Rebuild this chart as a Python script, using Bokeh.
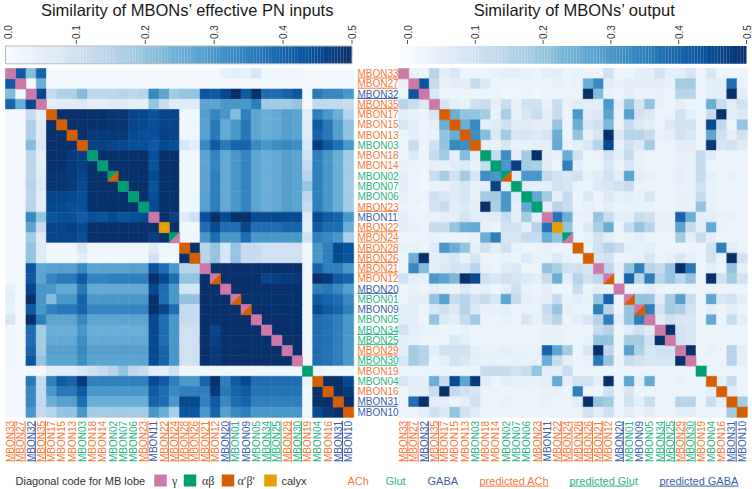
import numpy as np
from bokeh.plotting import figure
from bokeh.models import Range1d, ColumnDataSource
from bokeh.core.properties import value
from bokeh.palettes import Blues256
from bokeh.embed import file_html
from bokeh.resources import INLINE

# ---------------- data ----------------
labels = ["MBON33", "MBON27", "MBON32", "MBON35", "MBON17", "MBON15", "MBON13", "MBON03",
          "MBON18", "MBON14", "MBON02", "MBON07", "MBON06", "MBON23", "MBON11", "MBON22",
          "MBON24", "MBON28", "MBON26", "MBON21", "MBON12", "MBON20", "MBON01", "MBON09",
          "MBON05", "MBON34", "MBON25", "MBON29", "MBON30", "MBON19", "MBON04", "MBON16",
          "MBON31", "MBON10"]
transmitter = ["ACh", "ACh", "GABA", "ACh", "ACh", "ACh", "ACh", "Glut",
               "ACh", "ACh", "Glut", "Glut", "Glut", "ACh", "GABA", "ACh",
               "ACh", "ACh", "ACh", "ACh", "ACh", "GABA", "Glut", "GABA",
               "Glut", "Glut", "Glut", "ACh", "Glut", "ACh", "Glut", "ACh",
               "GABA", "GABA"]
predicted = [1, 1, 1, 1, 0, 0, 0, 0,
             0, 0, 0, 0, 0, 1, 0, 1,
             1, 1, 1, 1, 0, 1, 0, 0,
             0, 1, 1, 1, 1, 0, 0, 0,
             1, 0]
lobe_main = ["g", "g", "g", "g", "apbp", "apbp", "apbp", "apbp",
             "ab", "ab", "ab", "ab", "ab", "ab", "g", "calyx",
             "ab", "apbp", "apbp", "g", "g", "g", "g", "g",
             "g", "g", "g", "g", "g", "ab", "apbp", "apbp",
             "apbp", "apbp"]
lobe_second = ["g", "g", "g", "g", "apbp", "apbp", "apbp", "apbp",
               "ab", "ab", "apbp", "ab", "ab", "ab", "g", "calyx",
               "g", "apbp", "apbp", "g", "apbp", "g", "apbp", "apbp",
               "g", "g", "g", "g", "g", "ab", "apbp", "apbp",
               "apbp", "apbp"]

# lower triangles (row i lists columns 0..i-1)
pn_lower = [
    [],
    [0.42],
    [0.22, 0.01],
    [0.40, 0.25, 0.46],
    [0.01, 0.01, 0.12, 0.05],
    [0.01, 0.01, 0.16, 0.06, 0.52],
    [0.01, 0.01, 0.16, 0.06, 0.52, 0.52],
    [0.01, 0.01, 0.22, 0.07, 0.50, 0.50, 0.52],
    [0.01, 0.01, 0.14, 0.05, 0.50, 0.50, 0.48, 0.47],
    [0.01, 0.01, 0.14, 0.05, 0.50, 0.50, 0.48, 0.47, 0.52],
    [0.01, 0.01, 0.14, 0.06, 0.49, 0.49, 0.48, 0.46, 0.53, 0.53],
    [0.01, 0.01, 0.15, 0.06, 0.49, 0.49, 0.48, 0.45, 0.53, 0.53, 0.52],
    [0.01, 0.01, 0.14, 0.05, 0.46, 0.46, 0.45, 0.44, 0.50, 0.50, 0.50, 0.52],
    [0.01, 0.01, 0.15, 0.05, 0.45, 0.45, 0.44, 0.44, 0.50, 0.50, 0.50, 0.50, 0.52],
    [0.01, 0.01, 0.33, 0.20, 0.43, 0.44, 0.44, 0.42, 0.44, 0.43, 0.45, 0.43, 0.44, 0.45],
    [0.01, 0.01, 0.27, 0.12, 0.46, 0.46, 0.47, 0.45, 0.50, 0.50, 0.50, 0.50, 0.50, 0.50, 0.50],
    [0.01, 0.01, 0.18, 0.06, 0.46, 0.46, 0.46, 0.44, 0.52, 0.52, 0.52, 0.52, 0.52, 0.52, 0.47, 0.52],
    [0.01, 0.01, 0.20, 0.06, 0.02, 0.02, 0.02, 0.08, 0.02, 0.02, 0.02, 0.02, 0.02, 0.02, 0.06, 0.02, 0.02],
    [0.01, 0.01, 0.20, 0.06, 0.02, 0.02, 0.02, 0.05, 0.02, 0.02, 0.02, 0.02, 0.02, 0.02, 0.10, 0.02, 0.02, 0.52],
    [0.01, 0.01, 0.43, 0.27, 0.28, 0.28, 0.28, 0.33, 0.27, 0.27, 0.27, 0.27, 0.28, 0.28, 0.44, 0.38, 0.30, 0.15, 0.15],
    [0.01, 0.01, 0.42, 0.27, 0.34, 0.36, 0.36, 0.42, 0.34, 0.34, 0.35, 0.35, 0.35, 0.35, 0.50, 0.45, 0.38, 0.20, 0.20, 0.52],
    [0.04, 0.01, 0.46, 0.30, 0.30, 0.26, 0.26, 0.36, 0.26, 0.26, 0.26, 0.26, 0.26, 0.26, 0.45, 0.38, 0.30, 0.08, 0.08, 0.50, 0.50],
    [0.05, 0.01, 0.50, 0.30, 0.22, 0.30, 0.30, 0.40, 0.30, 0.30, 0.30, 0.30, 0.30, 0.30, 0.50, 0.38, 0.30, 0.20, 0.20, 0.52, 0.50, 0.52],
    [0.04, 0.01, 0.42, 0.30, 0.35, 0.36, 0.36, 0.40, 0.34, 0.34, 0.34, 0.34, 0.34, 0.34, 0.50, 0.46, 0.38, 0.12, 0.12, 0.52, 0.50, 0.52, 0.52],
    [0.08, 0.01, 0.50, 0.35, 0.27, 0.27, 0.27, 0.33, 0.27, 0.27, 0.27, 0.27, 0.27, 0.27, 0.45, 0.38, 0.30, 0.12, 0.12, 0.52, 0.50, 0.52, 0.52, 0.52],
    [0.02, 0.01, 0.38, 0.18, 0.25, 0.25, 0.25, 0.30, 0.25, 0.25, 0.25, 0.25, 0.25, 0.25, 0.45, 0.38, 0.30, 0.10, 0.10, 0.50, 0.46, 0.50, 0.50, 0.50, 0.50],
    [0.02, 0.01, 0.38, 0.18, 0.26, 0.26, 0.26, 0.32, 0.26, 0.26, 0.26, 0.26, 0.26, 0.26, 0.45, 0.38, 0.30, 0.10, 0.10, 0.50, 0.47, 0.50, 0.50, 0.50, 0.50, 0.52],
    [0.02, 0.01, 0.40, 0.18, 0.28, 0.28, 0.28, 0.33, 0.28, 0.28, 0.28, 0.28, 0.28, 0.28, 0.45, 0.40, 0.30, 0.10, 0.10, 0.50, 0.48, 0.50, 0.50, 0.50, 0.50, 0.50, 0.50],
    [0.02, 0.01, 0.43, 0.20, 0.27, 0.27, 0.27, 0.32, 0.27, 0.27, 0.27, 0.27, 0.27, 0.27, 0.45, 0.40, 0.30, 0.10, 0.10, 0.50, 0.48, 0.50, 0.50, 0.50, 0.50, 0.50, 0.50, 0.52],
    [0.01, 0.01, 0.02, 0.01, 0.05, 0.06, 0.06, 0.08, 0.10, 0.12, 0.15, 0.20, 0.14, 0.12, 0.06, 0.05, 0.10, 0.02, 0.02, 0.02, 0.02, 0.02, 0.02, 0.02, 0.02, 0.02, 0.02, 0.02, 0.02],
    [0.01, 0.01, 0.36, 0.13, 0.35, 0.42, 0.40, 0.48, 0.35, 0.35, 0.35, 0.35, 0.35, 0.35, 0.45, 0.42, 0.35, 0.30, 0.30, 0.40, 0.50, 0.35, 0.42, 0.45, 0.38, 0.38, 0.38, 0.38, 0.38, 0.03],
    [0.01, 0.01, 0.33, 0.13, 0.30, 0.36, 0.36, 0.42, 0.30, 0.30, 0.30, 0.30, 0.30, 0.30, 0.42, 0.38, 0.33, 0.35, 0.35, 0.35, 0.48, 0.36, 0.40, 0.42, 0.37, 0.37, 0.37, 0.37, 0.37, 0.02, 0.52],
    [0.01, 0.01, 0.33, 0.13, 0.25, 0.28, 0.28, 0.38, 0.25, 0.25, 0.25, 0.25, 0.25, 0.25, 0.40, 0.38, 0.30, 0.45, 0.45, 0.35, 0.42, 0.33, 0.38, 0.40, 0.35, 0.35, 0.35, 0.35, 0.35, 0.02, 0.50, 0.52],
    [0.01, 0.01, 0.30, 0.12, 0.15, 0.20, 0.20, 0.30, 0.18, 0.18, 0.18, 0.18, 0.18, 0.18, 0.30, 0.25, 0.17, 0.43, 0.43, 0.30, 0.40, 0.28, 0.33, 0.35, 0.30, 0.30, 0.30, 0.30, 0.30, 0.02, 0.45, 0.48, 0.50],
]

out_lower = [
    [],
    [0.04],
    [0.03, 0.43],
    [0.15, 0.12, 0.07],
    [0.05, 0.04, 0.03, 0.08],
    [0.08, 0.05, 0.03, 0.05, 0.25],
    [0.03, 0.05, 0.03, 0.04, 0.20, 0.25],
    [0.03, 0.12, 0.03, 0.10, 0.20, 0.33, 0.32],
    [0.03, 0.07, 0.03, 0.12, 0.18, 0.05, 0.22, 0.05],
    [0.04, 0.03, 0.03, 0.05, 0.04, 0.06, 0.07, 0.04, 0.12],
    [0.05, 0.03, 0.02, 0.12, 0.17, 0.10, 0.18, 0.08, 0.32, 0.30],
    [0.05, 0.03, 0.02, 0.04, 0.04, 0.06, 0.08, 0.04, 0.05, 0.47, 0.06],
    [0.04, 0.03, 0.03, 0.10, 0.08, 0.06, 0.09, 0.04, 0.18, 0.18, 0.30, 0.06],
    [0.03, 0.03, 0.02, 0.10, 0.12, 0.05, 0.07, 0.05, 0.50, 0.17, 0.30, 0.05, 0.26],
    [0.05, 0.03, 0.03, 0.04, 0.05, 0.05, 0.09, 0.05, 0.05, 0.06, 0.12, 0.05, 0.18, 0.05],
    [0.05, 0.04, 0.03, 0.12, 0.12, 0.20, 0.25, 0.26, 0.04, 0.03, 0.10, 0.10, 0.05, 0.15, 0.37],
    [0.03, 0.03, 0.03, 0.04, 0.03, 0.03, 0.03, 0.04, 0.25, 0.35, 0.08, 0.08, 0.12, 0.12, 0.25, 0.20],
    [0.04, 0.04, 0.03, 0.06, 0.30, 0.25, 0.20, 0.05, 0.10, 0.05, 0.10, 0.04, 0.03, 0.03, 0.04, 0.03, 0.03],
    [0.03, 0.25, 0.50, 0.05, 0.06, 0.08, 0.04, 0.08, 0.03, 0.03, 0.04, 0.03, 0.07, 0.04, 0.04, 0.07, 0.04, 0.03],
    [0.03, 0.33, 0.22, 0.05, 0.07, 0.10, 0.08, 0.15, 0.04, 0.03, 0.06, 0.07, 0.03, 0.03, 0.20, 0.17, 0.10, 0.10, 0.08],
    [0.10, 0.05, 0.04, 0.30, 0.27, 0.23, 0.50, 0.45, 0.10, 0.08, 0.10, 0.08, 0.07, 0.05, 0.12, 0.25, 0.05, 0.15, 0.10, 0.14],
    [0.03, 0.04, 0.03, 0.05, 0.04, 0.03, 0.07, 0.04, 0.05, 0.03, 0.05, 0.10, 0.04, 0.03, 0.05, 0.03, 0.03, 0.12, 0.03, 0.05, 0.04],
    [0.03, 0.05, 0.05, 0.20, 0.28, 0.12, 0.15, 0.10, 0.12, 0.08, 0.27, 0.12, 0.05, 0.04, 0.05, 0.12, 0.04, 0.05, 0.04, 0.20, 0.40, 0.03],
    [0.05, 0.05, 0.03, 0.08, 0.10, 0.07, 0.15, 0.07, 0.04, 0.04, 0.05, 0.03, 0.04, 0.04, 0.12, 0.20, 0.05, 0.04, 0.04, 0.35, 0.15, 0.03, 0.20],
    [0.05, 0.05, 0.03, 0.20, 0.07, 0.05, 0.12, 0.18, 0.03, 0.03, 0.04, 0.03, 0.08, 0.04, 0.10, 0.15, 0.03, 0.05, 0.08, 0.15, 0.35, 0.05, 0.20, 0.35],
    [0.10, 0.05, 0.04, 0.04, 0.03, 0.03, 0.04, 0.03, 0.03, 0.03, 0.03, 0.03, 0.03, 0.03, 0.04, 0.04, 0.03, 0.03, 0.03, 0.12, 0.15, 0.03, 0.06, 0.10, 0.06],
    [0.05, 0.04, 0.03, 0.03, 0.03, 0.07, 0.05, 0.03, 0.03, 0.03, 0.03, 0.03, 0.03, 0.03, 0.04, 0.04, 0.03, 0.03, 0.04, 0.20, 0.20, 0.03, 0.18, 0.18, 0.10, 0.50],
    [0.05, 0.18, 0.15, 0.05, 0.10, 0.10, 0.10, 0.05, 0.04, 0.04, 0.05, 0.04, 0.04, 0.04, 0.40, 0.27, 0.18, 0.03, 0.08, 0.50, 0.14, 0.03, 0.28, 0.16, 0.08, 0.10, 0.10],
    [0.08, 0.18, 0.15, 0.03, 0.05, 0.10, 0.08, 0.05, 0.04, 0.04, 0.04, 0.04, 0.04, 0.04, 0.25, 0.12, 0.05, 0.03, 0.04, 0.36, 0.20, 0.03, 0.12, 0.10, 0.08, 0.08, 0.08, 0.50],
    [0.03, 0.03, 0.03, 0.03, 0.03, 0.03, 0.03, 0.03, 0.12, 0.12, 0.12, 0.10, 0.12, 0.20, 0.05, 0.05, 0.12, 0.03, 0.03, 0.03, 0.03, 0.03, 0.03, 0.03, 0.03, 0.03, 0.03, 0.03, 0.03],
    [0.08, 0.05, 0.05, 0.25, 0.12, 0.45, 0.27, 0.48, 0.06, 0.03, 0.05, 0.04, 0.04, 0.04, 0.05, 0.26, 0.05, 0.10, 0.10, 0.05, 0.50, 0.03, 0.27, 0.05, 0.26, 0.03, 0.03, 0.04, 0.03, 0.03],
    [0.03, 0.05, 0.05, 0.12, 0.50, 0.13, 0.10, 0.08, 0.03, 0.03, 0.03, 0.03, 0.03, 0.03, 0.04, 0.04, 0.03, 0.35, 0.03, 0.03, 0.10, 0.03, 0.08, 0.03, 0.03, 0.03, 0.03, 0.03, 0.03, 0.03, 0.05],
    [0.03, 0.38, 0.50, 0.05, 0.05, 0.03, 0.05, 0.10, 0.03, 0.03, 0.04, 0.03, 0.03, 0.03, 0.04, 0.03, 0.03, 0.05, 0.50, 0.20, 0.18, 0.03, 0.10, 0.05, 0.12, 0.03, 0.03, 0.15, 0.15, 0.03, 0.12, 0.05],
    [0.03, 0.03, 0.05, 0.10, 0.07, 0.20, 0.10, 0.06, 0.03, 0.03, 0.03, 0.03, 0.03, 0.03, 0.03, 0.03, 0.03, 0.03, 0.10, 0.05, 0.10, 0.03, 0.05, 0.03, 0.05, 0.03, 0.03, 0.05, 0.05, 0.03, 0.03, 0.03, 0.18],
]

cbar_ticks = [0.0, 0.1, 0.2, 0.3, 0.4, 0.5]
titles = ["Similarity of MBONs\u2019 effective PN inputs", "Similarity of MBONs\u2019 output"]
lobe_names = ["g", "ab", "apbp", "calyx"]
lobe_texts = ["\u03b3", "\u03b1\u03b2", "\u03b1\u2032\u03b2\u2032", "calyx"]
tx_names = ["ACh", "Glut", "GABA"]

# ---------------- styles ----------------
LOBE_COL = {"g": "#CC79A7", "ab": "#009E73", "apbp": "#D55E00", "calyx": "#E69F00"}
TX_COL = {"ACh": "#F47A3C", "Glut": "#2BB585", "GABA": "#3D5FAA"}
FONT = value("Liberation Sans")
PAL = list(Blues256)[::-1]
VMAX = 0.5

W, H = 752, 489
PAGE = 0
# screen geometry (window px)
LX0, CWL = 5.0, 10.24
RX0, CWR = 398.0, 10.26
Y0, RH = 68.0, 10.26
CBL0, CBLS = 7.0, 689.0
CBR0, CBRS = 407.0, 678.0

def uxl(sx): return (sx - LX0) / CWL - 0.5
def uxr(sx): return (sx - RX0) / CWR - 0.5
def uy(sy): return (sy - Y0) / RH - 0.5

def color_of(v):
    v = min(max(v, 0.0), VMAX)
    return PAL[int(round(v / VMAX * 255))]

def full_matrix(lower):
    n = len(labels)
    m = np.zeros((n, n))
    for i, row in enumerate(lower):
        assert len(row) == i, (i, len(row))
        for j, v in enumerate(row):
            m[i, j] = v
            m[j, i] = v
    return m

n = len(labels)
p = figure(width=W, height=H, output_backend="svg", toolbar_location=None,
           x_range=Range1d(uxl(PAGE), uxl(PAGE + W)),
           y_range=Range1d(uy(PAGE + H), uy(PAGE)),
           min_border=0, x_axis_location=None, y_axis_location=None)
p.xgrid.visible = False
p.ygrid.visible = False
p.outline_line_color = None
p.background_fill_color = "white"
p.border_fill_color = "white"
p.extra_x_ranges = {
    "R": Range1d(uxr(PAGE), uxr(PAGE + W)),
    "cbL": Range1d((PAGE - CBL0) / CBLS, (PAGE + W - CBL0) / CBLS),
    "cbR": Range1d((PAGE - CBR0) / CBRS, (PAGE + W - CBR0) / CBRS),
}

def draw_heatmap(mat, rng):
    xs, ys, cs = [], [], []
    for r in range(n):
        for c in range(n):
            if r == c:
                continue
            xs.append(c); ys.append(r); cs.append(color_of(mat[r, c]))
    src = ColumnDataSource(dict(x=xs, y=ys, c=cs))
    p.rect(x="x", y="y", width=1, height=1, fill_color="c", line_color="c",
           line_width=0.6, source=src, x_range_name=rng)
    fx, fy, fc = [], [], []
    txs, tys, tcs = [], [], []
    for i in range(n):
        if lobe_main[i] == lobe_second[i]:
            fx.append(i); fy.append(i); fc.append(LOBE_COL[lobe_main[i]])
        else:
            txs.append([i - 0.5, i + 0.5, i - 0.5]); tys.append([i - 0.5, i - 0.5, i + 0.5])
            tcs.append(LOBE_COL[lobe_main[i]])
            txs.append([i + 0.5, i + 0.5, i - 0.5]); tys.append([i - 0.5, i + 0.5, i + 0.5])
            tcs.append(LOBE_COL[lobe_second[i]])
    p.rect(x=fx, y=fy, width=1, height=1, fill_color=fc, line_color=fc, line_width=0.6,
           x_range_name=rng)
    p.patches(xs=txs, ys=tys, fill_color=tcs, line_color=tcs, line_width=0.6, x_range_name=rng)

pn = full_matrix(pn_lower)
out = full_matrix(out_lower)
draw_heatmap(pn, "default")
draw_heatmap(out, "R")

lab_cols = [TX_COL[t] for t in transmitter]

# row labels (between heatmaps)
p.text(x=[uxl(357)] * n, y=list(range(n)), text=labels, text_color=lab_cols,
       text_font=FONT, text_font_size=value("10px"), text_align="left",
       text_baseline="middle")
ul_r = [i for i in range(n) if predicted[i]]
p.segment(x0=[uxl(357)] * len(ul_r), x1=[uxl(397)] * len(ul_r),
          y0=[r + 4.3 / RH for r in ul_r], y1=[r + 4.3 / RH for r in ul_r],
          line_color=[lab_cols[i] for i in ul_r], line_width=1)

# column labels under both heatmaps
for rng, cw in (("default", CWL), ("R", CWR)):
    p.text(x=list(range(n)), y=[uy(420.5)] * n, text=labels, text_color=lab_cols,
           text_font=FONT, text_font_size=value("10px"), angle=np.pi / 2,
           text_align="right", text_baseline="middle", x_range_name=rng)
    p.segment(x0=[c + 4.2 / cw for c in ul_r], x1=[c + 4.2 / cw for c in ul_r],
              y0=[uy(420.5)] * len(ul_r), y1=[uy(461.5)] * len(ul_r),
              line_color=[lab_cols[i] for i in ul_r], line_width=1, x_range_name=rng)

# colour bars
def draw_cbar(rng, x0s, s0, scale, border, tick0):
    v0 = (x0s - s0) / scale
    N = 120
    edges = np.linspace(v0, VMAX, N + 1)
    cx = (edges[:-1] + edges[1:]) / 2
    cw = edges[1] - edges[0]
    cols = [color_of(v) for v in cx]
    yc = (uy(45.5) + uy(63.3)) / 2
    hh = uy(63.3) - uy(45.5)
    p.rect(x=list(cx), y=[yc] * N, width=cw * 1.02, height=hh, fill_color=cols,
           line_color=None, x_range_name=rng)
    if border:
        p.rect(x=[(v0 + VMAX) / 2], y=[yc], width=VMAX - v0, height=hh, fill_color=None,
               line_color="#b8b8b8", line_width=1, x_range_name=rng)
    p.text(x=cbar_ticks, y=[uy(38.5)] * len(cbar_ticks),
           text=["%.1f" % t for t in cbar_ticks], text_color="#333333",
           text_font=FONT, text_font_size=value("10px"), angle=np.pi / 2,
           text_align="left", text_baseline="middle", x_range_name=rng)
    tk = cbar_ticks[tick0:]
    p.segment(x0=tk, x1=tk, y0=[uy(39.5)] * len(tk), y1=[uy(43.5)] * len(tk),
              line_color="#555555", line_width=1, x_range_name=rng)

draw_cbar("cbL", 5.0, CBL0, CBLS, True, 1)
draw_cbar("cbR", 400.0, CBR0, CBRS, False, 0)

# titles
p.text(x=[uxl(187), uxl(574)], y=[uy(9.8)] * 2, text=titles, text_color="#1a1a1a",
       text_font=FONT, text_font_size=value("16.5px"), text_align="center",
       text_baseline="middle")

# legend
LC = 480.0
p.text(x=[uxl(15)], y=[uy(LC)], text=["Diagonal code for MB lobe"], text_color="#333333",
       text_font=FONT, text_font_size=value("11px"), text_align="left",
       text_baseline="middle")
sw_x = [153.5, 183.0, 221.0, 263.5]
txt_x = [171.5, 201.5, 237.0, 281.0]
p.rect(x=[uxl(s + 6.5) for s in sw_x], y=[uy(LC)] * 4, width=12.5 / CWL, height=12 / RH,
       fill_color=[LOBE_COL[k] for k in lobe_names], line_color=None)
p.text(x=[uxl(t) for t in txt_x[:3]], y=[uy(LC + 0.5)] * 3, text=lobe_texts[:3],
       text_color="#333333", text_font=value("Liberation Serif"),
       text_font_size=value("12px"), text_align="left", text_baseline="middle")
p.text(x=[uxl(txt_x[3])], y=[uy(LC)], text=[lobe_texts[3]], text_color="#333333",
       text_font=FONT, text_font_size=value("11px"), text_align="left",
       text_baseline="middle")
tx_x = [347.0, 385.0, 427.0]
ptx_x = [479.0, 569.0, 659.0]
ptx_w = [69.0, 63.0, 79.0]
p.text(x=[uxl(v) for v in tx_x], y=[uy(LC)] * 3, text=tx_names,
       text_color=[TX_COL[t] for t in tx_names], text_font=FONT,
       text_font_size=value("11px"), text_align="left", text_baseline="middle")
p.text(x=[uxl(v) for v in ptx_x], y=[uy(LC)] * 3, text=["predicted " + t for t in tx_names],
       text_color=[TX_COL[t] for t in tx_names], text_font=FONT,
       text_font_size=value("11px"), text_align="left", text_baseline="middle")
p.segment(x0=[uxl(v) for v in ptx_x], x1=[uxl(v + w) for v, w in zip(ptx_x, ptx_w)],
          y0=[uy(LC + 5.6)] * 3, y1=[uy(LC + 5.6)] * 3,
          line_color=[TX_COL[t] for t in tx_names], line_width=1)

open("out.html", "w").write(file_html(p, INLINE))
